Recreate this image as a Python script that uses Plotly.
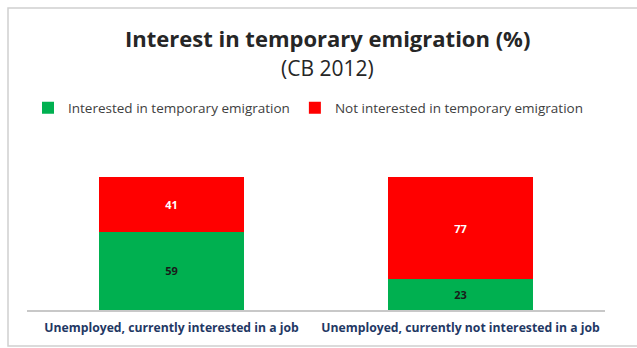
import plotly.graph_objects as go

categories = ["Unemployed, currently interested in a job",
              "Unemployed, currently not interested in a job"]
interested = [59, 23]
not_interested = [41, 77]
series_names = ["Interested in temporary emigration",
                "Not interested in temporary emigration"]

GREEN = "#00b050"
RED = "#ff0000"
FONT = "Open Sans"

# page and plot-area geometry (pixels)
W, H = 637, 348
L, R, T, B = 27, 32, 177, 38
PW, PH = W - L - R, H - T - B


def paper(xp, yp):
    """Convert page pixel coordinates to paper coordinates."""
    return (xp - L) / PW, (H - B - yp) / PH


fig = go.Figure()
fig.add_trace(go.Bar(
    x=categories, y=interested, name=series_names[0],
    marker=dict(color=GREEN, line=dict(width=0)),
    text=[str(v) for v in interested], textposition="inside",
    insidetextanchor="middle",
    textfont=dict(family=FONT, size=11, color="#1a1a1a", weight="bold"),
))
fig.add_trace(go.Bar(
    x=categories, y=not_interested, name=series_names[1],
    marker=dict(color=RED, line=dict(width=0)),
    text=[str(v) for v in not_interested], textposition="inside",
    insidetextanchor="middle",
    textfont=dict(family=FONT, size=11, color="white", weight="bold"),
))

tx, ty = paper(327, 38)
sx, sy = paper(327, 68)
bx0, by0 = paper(8, 346)
bx1, by1 = paper(640, 8)

fig.update_layout(
    width=W, height=H,
    barmode="stack", bargap=0.495,
    plot_bgcolor="white", paper_bgcolor="white",
    margin=dict(l=L, r=R, t=T, b=B, autoexpand=False),
    font=dict(family=FONT, color="#404040"),
    showlegend=True,
    legend=dict(
        orientation="h", x=28 / W, xref="container", xanchor="left",
        y=1 - 108 / H, yref="container", yanchor="middle",
        traceorder="normal",
        font=dict(family=FONT, size=13.5, color="#404040"),
        itemwidth=30,
    ),
    xaxis=dict(
        showline=True, linecolor="#c8c8c8", linewidth=1.5,
        ticks="", showgrid=False, ticklabelstandoff=6,
        tickfont=dict(family=FONT, size=12.2, color="#1f3864", weight="bold"),
    ),
    yaxis=dict(range=[0, 100], visible=False, showgrid=False),
    uniformtext=dict(minsize=8, mode="show"),
    annotations=[
        dict(text="<b>Interest in temporary emigration (%)</b>",
             x=tx, y=ty, xref="paper", yref="paper", showarrow=False,
             xanchor="center", yanchor="middle",
             font=dict(family=FONT, size=22, color="#262626")),
        dict(text="(CB 2012)",
             x=sx, y=sy, xref="paper", yref="paper", showarrow=False,
             xanchor="center", yanchor="middle",
             font=dict(family=FONT, size=21, color="#262626")),
    ],
    shapes=[
        dict(type="rect", xref="paper", yref="paper",
             x0=bx0, x1=bx1, y0=by0, y1=by1,
             line=dict(color="#d0d0d0", width=1.5),
             fillcolor="rgba(0,0,0,0)", layer="below"),
    ],
)

fig.write_html("out.html")
